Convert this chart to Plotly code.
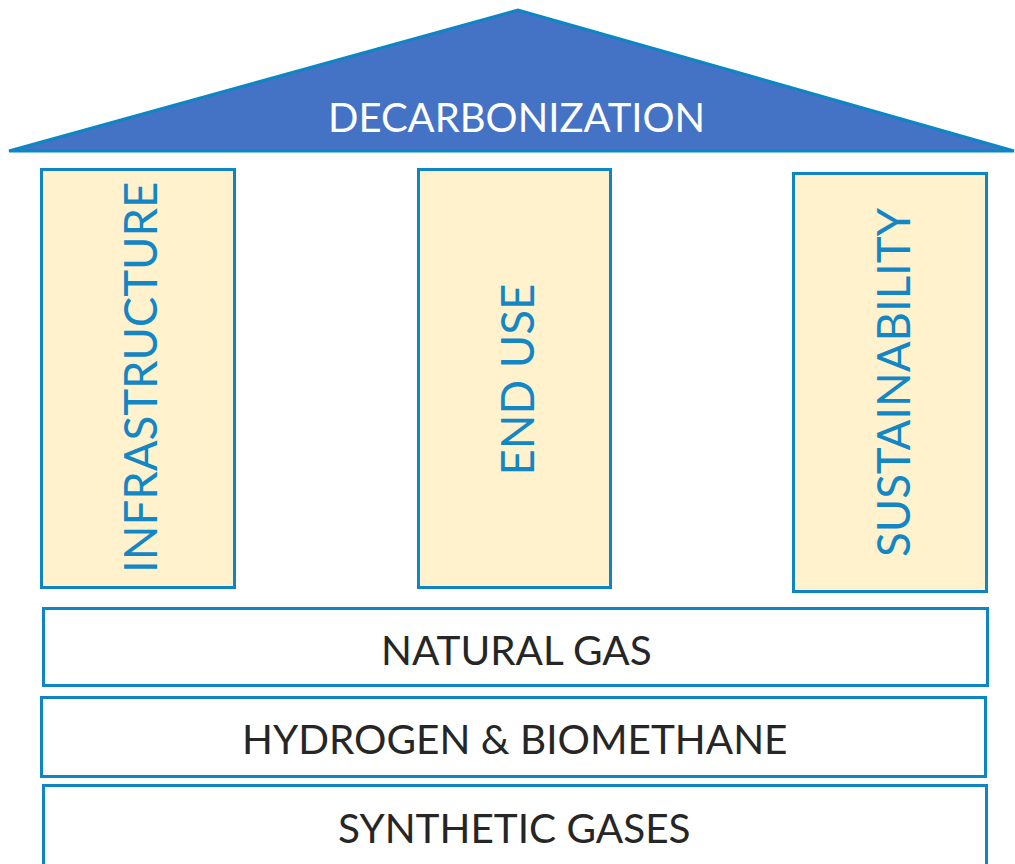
import plotly.graph_objects as go

# Diagram content
roof_label = "DECARBONIZATION"
pillar_labels = ["INFRASTRUCTURE", "END USE", "SUSTAINABILITY"]
base_labels = ["NATURAL GAS", "HYDROGEN & BIOMETHANE", "SYNTHETIC GASES"]

# Layout geometry (pixel space)
roof_pts = [(9, 151), (518, 10), (1014, 151)]
pillar_boxes = [(41.5, 169.5, 234.5, 587.5), (418.5, 169.5, 610.5, 587.5), (793.5, 173.5, 986.5, 591.5)]
pillar_text_pos = [(139.5, 377.5), (516, 379.5), (892, 382)]
base_boxes = [(43.5, 608.5, 987.5, 685.5), (41.5, 697.5, 985.5, 776.5), (43.5, 785.5, 986.5, 868)]
base_text_pos = [(516.5, 649), (514.5, 738.5), (514, 827)]
roof_text_pos = (516, 117)

BORDER = "#0E86C4"
ROOF_FILL = "#4472C4"
PILLAR_FILL = "#FFF2CC"
PILLAR_TEXT = "#1387C5"
BASE_TEXT = "#262626"
FONT = "Lato"

fig = go.Figure()
shapes = []
path = "M {} {} L {} {} L {} {} Z".format(*[v for p in roof_pts for v in p])
shapes.append(dict(type="path", path=path, fillcolor=ROOF_FILL, line=dict(color=BORDER, width=3), layer="below"))
for (x0, y0, x1, y1) in pillar_boxes:
    shapes.append(dict(type="rect", x0=x0, y0=y0, x1=x1, y1=y1, fillcolor=PILLAR_FILL,
                       line=dict(color=BORDER, width=3), layer="below"))
for (x0, y0, x1, y1) in base_boxes:
    shapes.append(dict(type="rect", x0=x0, y0=y0, x1=x1, y1=y1, fillcolor="white",
                       line=dict(color=BORDER, width=3), layer="below"))

annotations = []
annotations.append(dict(x=roof_text_pos[0], y=roof_text_pos[1], text=roof_label, showarrow=False,
                        font=dict(family=FONT, size=40, color="white"), xanchor="center", yanchor="middle"))
for lab, (x, y) in zip(pillar_labels, pillar_text_pos):
    annotations.append(dict(x=x, y=y, text=lab, showarrow=False, textangle=-90,
                            font=dict(family=FONT, size=45.5, color=PILLAR_TEXT), xanchor="center", yanchor="middle"))
for lab, (x, y) in zip(base_labels, base_text_pos):
    annotations.append(dict(x=x, y=y, text=lab, showarrow=False,
                            font=dict(family=FONT, size=40.5, color=BASE_TEXT), xanchor="center", yanchor="middle"))

fig.update_layout(
    width=1015, height=864, margin=dict(l=0, r=0, t=0, b=0),
    paper_bgcolor="white", plot_bgcolor="white",
    xaxis=dict(range=[0, 1015], visible=False, fixedrange=True),
    yaxis=dict(range=[864, 0], visible=False, fixedrange=True),
    shapes=shapes, annotations=annotations, showlegend=False,
)
fig.write_html("out.html", config={"displayModeBar": False},
               post_script="document.body.style.margin='0';document.body.style.overflow='hidden';")
